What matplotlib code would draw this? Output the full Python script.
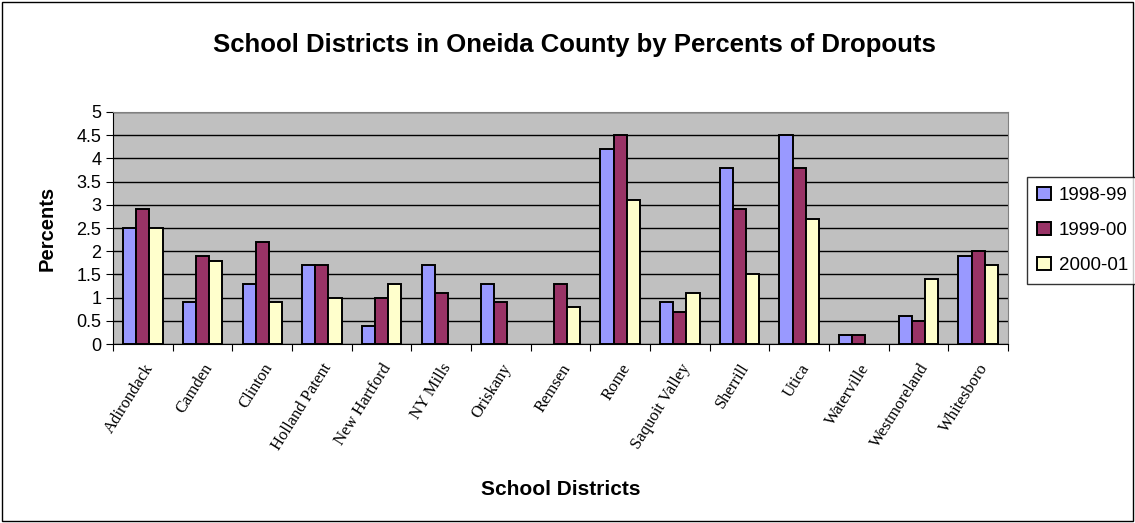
import matplotlib.pyplot as plt
import numpy as np
from matplotlib.patches import Rectangle

districts = ['Adirondack', 'Camden', 'Clinton', 'Holland Patent', 'New Hartford',
             'NY Mills', 'Oriskany', 'Remsen', 'Rome', 'Saquoit Valley',
             'Sherrill', 'Utica', 'Waterville', 'Westmoreland', 'Whitesboro']
years = ['1998-99', '1999-00', '2000-01']
pct_9899 = [2.5, 0.9, 1.3, 1.7, 0.4, 1.7, 1.3, 0.0, 4.2, 0.9, 3.8, 4.5, 0.2, 0.6, 1.9]
pct_9900 = [2.9, 1.9, 2.2, 1.7, 1.0, 1.1, 0.9, 1.3, 4.5, 0.7, 2.9, 3.8, 0.2, 0.5, 2.0]
pct_0001 = [2.5, 1.8, 0.9, 1.0, 1.3, 0.0, 0.0, 0.8, 3.1, 1.1, 1.5, 2.7, 0.0, 1.4, 1.7]
colors = ['#9999FF', '#993366', '#FFFFCC']

fig = plt.figure(figsize=(11.35, 5.23), dpi=100)
ax = fig.add_axes([0.0996, 0.342, 0.7885, 0.444])
fig.patches.append(Rectangle((0.002, 0.004), 0.996, 0.992, transform=fig.transFigure,
                             fill=False, edgecolor='black', linewidth=1))

x = np.arange(len(districts))
w = 0.22
for i, (vals, c, lab) in enumerate(zip([pct_9899, pct_9900, pct_0001], colors, years)):
    vals = np.array(vals)
    keep = vals > 0  # empty years get no bar at all
    ax.bar(x[keep] + (i - 1) * w, vals[keep], width=w, color=c, edgecolor='black',
           linewidth=1.4, label=lab, zorder=3)

ax.set_facecolor('#C0C0C0')
ax.set_xlim(-0.5, len(districts) - 0.5)
ax.set_ylim(0, 5)
ax.set_yticks(np.arange(0, 5.01, 0.5))
ax.set_yticklabels(['0', '0.5', '1', '1.5', '2', '2.5', '3', '3.5', '4', '4.5', '5'],
                   fontsize=13, family='Liberation Sans')
ax.yaxis.grid(True, color='black', linewidth=1)
ax.set_axisbelow(True)

ax.set_xticks(np.arange(-0.5, len(districts), 1.0))
ax.set_xticklabels([])
ax.set_xticks(x, minor=True)
ax.set_xticklabels(districts, minor=True, rotation=58, ha='right',
                   rotation_mode='anchor', fontsize=12, family='Liberation Serif')
ax.tick_params(axis='x', which='minor', length=0, pad=12)
ax.tick_params(axis='x', which='major', length=5, direction='out')
ax.tick_params(axis='y', length=5, direction='out')

ax.spines['top'].set_color('#808080')
ax.spines['right'].set_color('#808080')
ax.spines['left'].set_color('black')
ax.spines['bottom'].set_color('black')

ax.set_ylabel('Percents', fontsize=14.5, fontweight='bold', family='Liberation Sans', labelpad=14)
fig.text(0.494, 0.065, 'School Districts', fontsize=15, fontweight='bold',
         family='Liberation Sans', ha='center', va='center')
fig.text(0.506, 0.914, 'School Districts in Oneida County by Percents of Dropouts',
         fontsize=18.5, fontweight='bold', family='Liberation Sans', ha='center', va='center')

leg = fig.legend(loc='upper left', bbox_to_anchor=(0.905, 0.662), frameon=True,
                 fancybox=False, edgecolor='black', prop={'family': 'Liberation Sans', 'size': 13.5},
                 handlelength=0.7, handleheight=0.7, handletextpad=0.45, labelspacing=0.95,
                 borderpad=0.55, borderaxespad=0)
leg.get_frame().set_linewidth(1)

fig.savefig('out.png', dpi=100)
